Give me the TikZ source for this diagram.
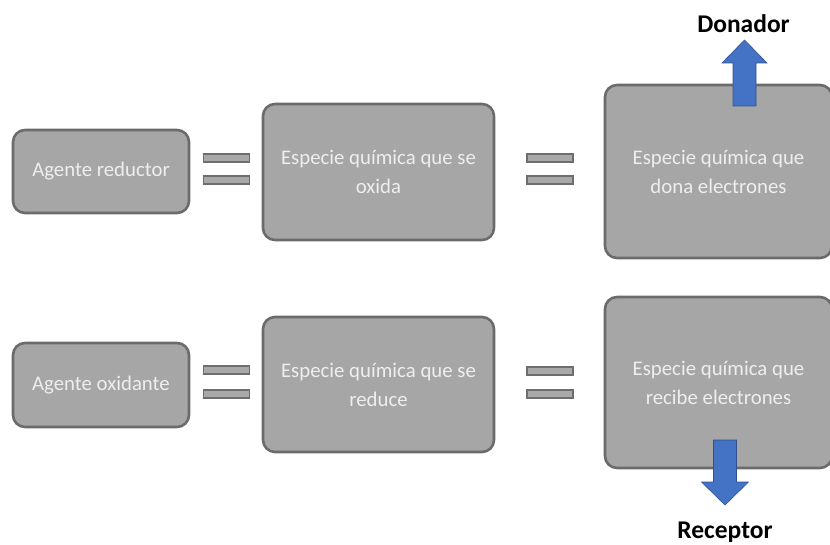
\documentclass[tikz,border=0pt]{standalone}
\usepackage{fontspec}
\setmainfont{Carlito}
\begin{document}
\begin{tikzpicture}[x=1pt,y=-1pt,
  box/.style={draw=boxborder,line width=2.6pt,fill=boxfill,rounded corners=12pt,
    inner sep=0pt,align=center,text=boxtext,font=\fontsize{20.8}{29}\selectfont},
  eqbar/.style={draw=eqborder,line width=1.4pt,fill=eqfill,minimum width=46pt,
    minimum height=8pt,inner sep=0pt},
  blabel/.style={font=\fontsize{25.5}{28}\selectfont\bfseries,text=black,inner sep=0pt},
  barrow/.style={fill=arrowblue,draw=arrowborder,line width=0.6pt}]
\definecolor{boxfill}{HTML}{A6A6A6}
\definecolor{boxborder}{HTML}{6B6B6B}
\definecolor{boxtext}{HTML}{EEEEEE}
\definecolor{eqborder}{HTML}{6E6E6E}
\definecolor{eqfill}{HTML}{A9A9A9}
\definecolor{arrowblue}{HTML}{4472C4}
\definecolor{arrowborder}{HTML}{2F528F}
\useasboundingbox (0,0) rectangle (830,545);
% row 1
\node[box,minimum width=176pt,minimum height=83pt] (b1) at (101,171.5) {Agente reductor};
\node[box,minimum width=231pt,minimum height=136pt] (b2) at (378.5,172) {Especie química que se\\oxida};
\node[box,minimum width=227pt,minimum height=173pt] (b3) at (718.5,171.5) {Especie química que\\dona electrones};
% row 2
\node[box,minimum width=176pt,minimum height=84pt] (b4) at (101,385) {Agente oxidante};
\node[box,minimum width=231pt,minimum height=135pt] (b5) at (378.5,384.5) {Especie química que se\\reduce};
\node[box,minimum width=227pt,minimum height=171pt] (b6) at (718.5,382.5) {Especie química que\\recibe electrones};
% equals signs
\node[eqbar] (e1a) at (226.5,158) {};
\node[eqbar] (e1b) at (226.5,180) {};
\node[eqbar] (e2a) at (550,158) {};
\node[eqbar] (e2b) at (550,180) {};
\node[eqbar] (e3a) at (226.5,370) {};
\node[eqbar] (e3b) at (226.5,394) {};
\node[eqbar] (e4a) at (550,371) {};
\node[eqbar] (e4b) at (550,394) {};
% arrows
\draw[barrow] (733,106) -- (733,63) -- (722,63) -- (744.5,40) -- (767,63) -- (756,63) -- (756,106) -- cycle;
\draw[barrow] (713.5,440) -- (736.5,440) -- (736.5,482) -- (748.5,482) -- (725,505) -- (701.5,482) -- (713.5,482) -- cycle;
% labels
\node[blabel] (don) at (743.5,24) {Donador};
\node[blabel] (rec) at (725,532) {Receptor};
\end{tikzpicture}
\end{document}
